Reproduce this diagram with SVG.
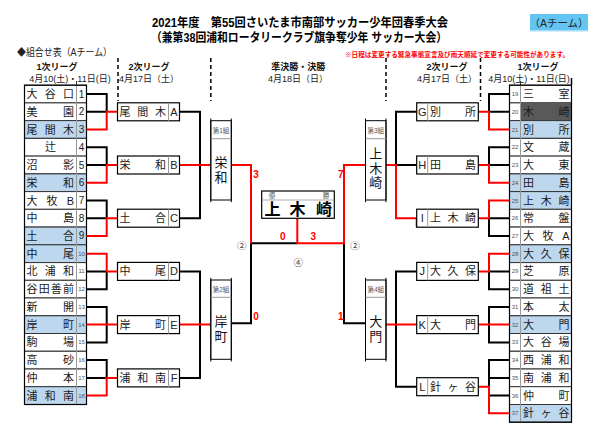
<svg xmlns="http://www.w3.org/2000/svg" width="606" height="428" viewBox="0 0 606 428">
<style>
text{font-family:"Liberation Sans","Noto Sans CJK JP",sans-serif}
.nm{font-size:11px;fill:#1a1a1a;dominant-baseline:central}
.n1{font-size:10px;fill:#222;text-anchor:middle;dominant-baseline:central}
.n2{font-size:6px;fill:#555;text-anchor:middle;dominant-baseline:central}
.lt{font-size:11px;fill:#222;text-anchor:middle;dominant-baseline:central}
.row{stroke:#333;stroke-width:1;fill:#fff}
.blue{fill:#bdd7ee}
.box{stroke:#000;stroke-width:1.2;fill:#fff}
.div{stroke:#999;stroke-width:1}
.bk{stroke:#000;stroke-width:2;fill:none}
.rd{stroke:#f00;stroke-width:2;fill:none}
.hd{font-size:9px;font-weight:bold;fill:#111;text-anchor:middle;dominant-baseline:central}
.dt{font-size:9px;fill:#222;text-anchor:middle;dominant-baseline:central}
.sc{font-size:10px;font-weight:bold;fill:#f00;text-anchor:middle;dominant-baseline:central}
.ci{font-size:9.5px;fill:#444;text-anchor:middle;dominant-baseline:central}
.sg{font-size:6.5px;fill:#555;text-anchor:middle;dominant-baseline:central}
.vn{font-size:13px;fill:#111;text-anchor:middle;dominant-baseline:central}
.dash{stroke:#000;stroke-width:1.5;stroke-dasharray:4 3}
</style>

<g id="header">
<text x="300" y="22.5" font-size="12.5" font-weight="bold" fill="#000" text-anchor="middle" dominant-baseline="central" textLength="296" lengthAdjust="spacingAndGlyphs">2021年度　第55回さいたま市南部サッカー少年団春季大会</text>
<text x="299" y="38" font-size="12.5" font-weight="bold" fill="#000" text-anchor="middle" dominant-baseline="central" textLength="296" lengthAdjust="spacingAndGlyphs">（兼第38回浦和ロータリークラブ旗争奪少年 サッカー大会）</text>
<rect x="530" y="14" width="58" height="16" fill="#63c6f2"/>
<rect x="530" y="30" width="58" height="1.5" fill="#a9dcf5"/>
<text x="559" y="22.5" font-size="10.5" fill="#222" text-anchor="middle" dominant-baseline="central">（Aチーム）</text>
<text x="17" y="52" font-size="10" fill="#222" dominant-baseline="central" textLength="95" lengthAdjust="spacingAndGlyphs">◆組合せ表（Aチーム）</text>
<text x="345" y="54" font-size="6.6" font-weight="bold" fill="#f00" dominant-baseline="central" textLength="224" lengthAdjust="spacingAndGlyphs">※日程は変更する緊急事態宣言及び雨天順延で変更する可能性があります。</text>
<text class="hd" x="57" y="66.7">1次リーグ</text>
<text class="dt" x="70" y="79.3">4月10(土)・11日(日)</text>
<text class="hd" x="149" y="66.7">2次リーグ</text>
<text class="dt" x="149" y="79.3">4月17日（土）</text>
<text class="hd" x="298.3" y="66.7">準決勝・決勝</text>
<text class="dt" x="298" y="79.3">4月18日（日）</text>
<text class="hd" x="447" y="66.7">2次リーグ</text>
<text class="dt" x="447" y="79.3">4月17日（土）</text>
<text class="hd" x="538" y="66.7">1次リーグ</text>
<text class="dt" x="529" y="79.3">4月10(土)・11日(日)</text>
<line class="dash" x1="118" y1="58" x2="118" y2="101"/>
<line class="dash" x1="210.8" y1="58" x2="210.8" y2="101"/>
<line class="dash" x1="386" y1="58" x2="386" y2="101"/>
<line class="dash" x1="480.5" y1="58" x2="480.5" y2="101"/>
<line x1="76.5" y1="81" x2="76.5" y2="85" stroke="#333" stroke-width="1"/>
<line x1="520.5" y1="81" x2="520.5" y2="85" stroke="#333" stroke-width="1"/>
<line x1="571.5" y1="78" x2="571.5" y2="85" stroke="#000" stroke-width="1.5"/>
</g>

<!-- Left first league table -->
<g id="t1"><rect class="row" x="24.5" y="85.2" width="62" height="17.7"/><text class="nm" x="26.5" y="94" textLength="47.5" lengthAdjust="spacing">大谷口</text><text class="n1" x="81.5" y="94">1</text></g>
<g id="t2"><rect class="row" x="24.5" y="102.9" width="62" height="17.7"/><text class="nm" x="26.5" y="111.8" textLength="47.5" lengthAdjust="spacing">美園</text><text class="n1" x="81.5" y="111.8">2</text></g>
<g id="t3"><rect class="row blue" x="24.5" y="120.6" width="62" height="17.7"/><text class="nm" x="26.5" y="129.5" textLength="47.5" lengthAdjust="spacing">尾間木</text><text class="n1" x="81.5" y="129.5">3</text></g>
<g id="t4"><rect class="row" x="24.5" y="138.4" width="62" height="17.7"/><text class="nm" x="50.5" y="147.2" text-anchor="middle">辻</text><text class="n1" x="81.5" y="147.2">4</text></g>
<g id="t5"><rect class="row" x="24.5" y="156.1" width="62" height="17.7"/><text class="nm" x="26.5" y="165" textLength="47.5" lengthAdjust="spacing">沼影</text><text class="n1" x="81.5" y="165">5</text></g>
<g id="t6"><rect class="row blue" x="24.5" y="173.9" width="62" height="17.7"/><text class="nm" x="26.5" y="182.7" textLength="47.5" lengthAdjust="spacing">栄和</text><text class="n1" x="81.5" y="182.7">6</text></g>
<g id="t7"><rect class="row" x="24.5" y="191.6" width="62" height="17.7"/><text class="nm" x="26.5" y="200.5" textLength="47.5" lengthAdjust="spacing">大牧B</text><text class="n1" x="81.5" y="200.5">7</text></g>
<g id="t8"><rect class="row" x="24.5" y="209.3" width="62" height="17.7"/><text class="nm" x="26.5" y="218.2" textLength="47.5" lengthAdjust="spacing">中島</text><text class="n1" x="81.5" y="218.2">8</text></g>
<g id="t9"><rect class="row blue" x="24.5" y="227.1" width="62" height="17.7"/><text class="nm" x="26.5" y="235.9" textLength="47.5" lengthAdjust="spacing">土合</text><text class="n1" x="81.5" y="235.9">9</text></g>
<g id="t10"><rect class="row blue" x="24.5" y="244.8" width="62" height="17.7"/><text class="nm" x="26.5" y="253.7" textLength="47.5" lengthAdjust="spacing">中尾</text><text class="n2" x="81.5" y="253.7">10</text></g>
<g id="t11"><rect class="row" x="24.5" y="262.6" width="62" height="17.7"/><text class="nm" x="26.5" y="271.4" textLength="47.5" lengthAdjust="spacing">北浦和</text><text class="n2" x="81.5" y="271.4">11</text></g>
<g id="t12"><rect class="row" x="24.5" y="280.3" width="62" height="17.7"/><text class="nm" x="26.5" y="289.2" textLength="47.5" lengthAdjust="spacing">谷田善前</text><text class="n2" x="81.5" y="289.2">12</text></g>
<g id="t13"><rect class="row" x="24.5" y="298" width="62" height="17.7"/><text class="nm" x="26.5" y="306.9" textLength="47.5" lengthAdjust="spacing">新開</text><text class="n2" x="81.5" y="306.9">13</text></g>
<g id="t14"><rect class="row blue" x="24.5" y="315.8" width="62" height="17.7"/><text class="nm" x="26.5" y="324.6" textLength="47.5" lengthAdjust="spacing">岸町</text><text class="n2" x="81.5" y="324.6">14</text></g>
<g id="t15"><rect class="row" x="24.5" y="333.5" width="62" height="17.7"/><text class="nm" x="26.5" y="342.4" textLength="47.5" lengthAdjust="spacing">駒場</text><text class="n2" x="81.5" y="342.4">15</text></g>
<g id="t16"><rect class="row" x="24.5" y="351.3" width="62" height="17.7"/><text class="nm" x="26.5" y="360.1" textLength="47.5" lengthAdjust="spacing">高砂</text><text class="n2" x="81.5" y="360.1">16</text></g>
<g id="t17"><rect class="row" x="24.5" y="369" width="62" height="17.7"/><text class="nm" x="26.5" y="377.9" textLength="47.5" lengthAdjust="spacing">仲本</text><text class="n2" x="81.5" y="377.9">17</text></g>
<g id="t18"><rect class="row blue" x="24.5" y="386.7" width="62" height="17.8"/><text class="nm" x="26.5" y="395.6" textLength="47.5" lengthAdjust="spacing">浦和南</text><text class="n2" x="81.5" y="395.6">18</text></g>
<line class="div" x1="76.5" y1="85.2" x2="76.5" y2="404.5"/>
<rect x="24.5" y="85.2" width="62" height="319.3" fill="none" stroke="#000" stroke-width="1.2"/>

<!-- Right first league table -->
<g id="t19"><rect class="row" x="509.5" y="85.2" width="62" height="17.7"/><text class="nm" x="523" y="94" textLength="46.5" lengthAdjust="spacing">三室</text><text class="n2" x="515" y="94">19</text></g>
<g id="t20"><rect class="row" x="509.5" y="102.9" width="62" height="17.7"/><rect x="520.5" y="102.9" width="51" height="17.7" fill="#595959"/><text class="nm" x="523" y="111.8" textLength="46.5" lengthAdjust="spacing">木崎</text><text class="n2" x="515" y="111.8">20</text></g>
<g id="t21"><rect class="row blue" x="509.5" y="120.6" width="62" height="17.7"/><text class="nm" x="523" y="129.5" textLength="46.5" lengthAdjust="spacing">別所</text><text class="n2" x="515" y="129.5">21</text></g>
<g id="t22"><rect class="row" x="509.5" y="138.4" width="62" height="17.7"/><text class="nm" x="523" y="147.2" textLength="46.5" lengthAdjust="spacing">文蔵</text><text class="n2" x="515" y="147.2">22</text></g>
<g id="t23"><rect class="row" x="509.5" y="156.1" width="62" height="17.7"/><text class="nm" x="523" y="165" textLength="46.5" lengthAdjust="spacing">大東</text><text class="n2" x="515" y="165">23</text></g>
<g id="t24"><rect class="row blue" x="509.5" y="173.9" width="62" height="17.7"/><text class="nm" x="523" y="182.7" textLength="46.5" lengthAdjust="spacing">田島</text><text class="n2" x="515" y="182.7">24</text></g>
<g id="t25"><rect class="row blue" x="509.5" y="191.6" width="62" height="17.7"/><text class="nm" x="523" y="200.5" textLength="46.5" lengthAdjust="spacing">上木崎</text><text class="n2" x="515" y="200.5">25</text></g>
<g id="t26"><rect class="row" x="509.5" y="209.3" width="62" height="17.7"/><text class="nm" x="523" y="218.2" textLength="46.5" lengthAdjust="spacing">常盤</text><text class="n2" x="515" y="218.2">26</text></g>
<g id="t27"><rect class="row" x="509.5" y="227.1" width="62" height="17.7"/><text class="nm" x="523" y="235.9" textLength="46.5" lengthAdjust="spacing">大牧A</text><text class="n2" x="515" y="235.9">27</text></g>
<g id="t28"><rect class="row blue" x="509.5" y="244.8" width="62" height="17.7"/><text class="nm" x="523" y="253.7" textLength="46.5" lengthAdjust="spacing">大久保</text><text class="n2" x="515" y="253.7">28</text></g>
<g id="t29"><rect class="row" x="509.5" y="262.6" width="62" height="17.7"/><text class="nm" x="523" y="271.4" textLength="46.5" lengthAdjust="spacing">芝原</text><text class="n2" x="515" y="271.4">29</text></g>
<g id="t30"><rect class="row" x="509.5" y="280.3" width="62" height="17.7"/><text class="nm" x="523" y="289.2" textLength="46.5" lengthAdjust="spacing">道祖土</text><text class="n2" x="515" y="289.2">30</text></g>
<g id="t31"><rect class="row" x="509.5" y="298" width="62" height="17.7"/><text class="nm" x="523" y="306.9" textLength="46.5" lengthAdjust="spacing">本太</text><text class="n2" x="515" y="306.9">31</text></g>
<g id="t32"><rect class="row blue" x="509.5" y="315.8" width="62" height="17.7"/><text class="nm" x="523" y="324.6" textLength="46.5" lengthAdjust="spacing">大門</text><text class="n2" x="515" y="324.6">32</text></g>
<g id="t33"><rect class="row" x="509.5" y="333.5" width="62" height="17.7"/><text class="nm" x="523" y="342.4" textLength="46.5" lengthAdjust="spacing">大谷場</text><text class="n2" x="515" y="342.4">33</text></g>
<g id="t34"><rect class="row" x="509.5" y="351.3" width="62" height="17.7"/><text class="nm" x="523" y="360.1" textLength="46.5" lengthAdjust="spacing">西浦和</text><text class="n2" x="515" y="360.1">34</text></g>
<g id="t35"><rect class="row" x="509.5" y="369" width="62" height="17.7"/><text class="nm" x="523" y="377.9" textLength="46.5" lengthAdjust="spacing">南浦和</text><text class="n2" x="515" y="377.9">35</text></g>
<g id="t36"><rect class="row" x="509.5" y="386.7" width="62" height="17.8"/><text class="nm" x="523" y="395.6" textLength="46.5" lengthAdjust="spacing">仲町</text><text class="n2" x="515" y="395.6">36</text></g>
<g id="t37"><rect class="row blue" x="509.5" y="404.5" width="62" height="17.7"/><text class="nm" x="523" y="413.3" textLength="46.5" lengthAdjust="spacing">針ヶ谷</text><text class="n2" x="515" y="413.3">37</text></g>
<line class="div" x1="520.5" y1="85.2" x2="520.5" y2="422.2"/>
<rect x="509.5" y="85.2" width="62" height="337" fill="none" stroke="#000" stroke-width="1.2"/>

<!-- Connectors -->
<g id="connectors">
<path class="bk" d="M86.5,94H106.7V111.8M86.5,111.8H106.7
M86.5,147.2H106.7V165M86.5,165H106.7
M86.5,200.5H106.7V218.2M86.5,218.2H106.7
M86.5,271.4H106.7M86.5,289.2H106.7V271.4
M86.5,306.9H106.7V342.4H86.5
M86.5,360.1H106.7V377.9M86.5,377.9H106.7
M179.5,111.8H200V218.2H179.5
M179.5,271.4H200V377.9H179.5
M251,243.3H297.3
M251,243.3V323.3H231.3
M344,243.3V323.3H365.5
M416.7,111.8H396V165H416.7
M416.7,271.4H396V386.7H416.7
M509.5,94H489V111.8M509.5,111.8H489
M509.5,147.2H489V165M509.5,165H489
M509.5,218.2H489M509.5,235.9H489V218.2
M509.5,271.4H489M509.5,289.2H489V271.4
M509.5,306.9H489V342.4H509.5
M509.5,360.1H489V395.6H509.5M509.5,377.9H489"/>
<path class="rd" d="M86.5,129.5H106.7V111.8H117.5
M86.5,182.7H106.7V165H117.5
M86.5,235.9H106.7V218.2H117.5
M86.5,253.7H106.7V271.4H117.5
M86.5,324.6H117.5
M86.5,395.6H106.7V377.9H117.5
M179.5,165H210.8
M179.5,324.6H210.8
M231.3,165H251V243.3
M297.3,218.3V243.3H344V165H365.5
M386,165H396V218.2H416.7V227.2
M386,324.6H416.7
M509.5,129.5H489V111.8H478.3
M509.5,182.7H489V165H478.3
M509.5,200.5H489V218.2H478.3
M509.5,253.7H489V271.4H478.3
M509.5,324.6H478.3
M509.5,413.3H489V386.7H478.3"/>
</g>

<!-- Left second league boxes -->
<g id="A"><rect class="box" x="117.5" y="102.8" width="62" height="18"/><line class="div" x1="168.5" y1="102.8" x2="168.5" y2="120.8"/><text class="nm" x="119.5" y="111.8" textLength="46.5" lengthAdjust="spacing">尾間木</text><text class="lt" x="174" y="111.8">A</text></g>
<g id="B"><rect class="box blue" x="117.5" y="156" width="62" height="18"/><line class="div" x1="168.5" y1="156" x2="168.5" y2="174"/><text class="nm" x="119.5" y="165" textLength="46.5" lengthAdjust="spacing">栄和</text><text class="lt" x="174" y="165">B</text></g>
<g id="C"><rect class="box" x="117.5" y="209.2" width="62" height="18"/><line class="div" x1="168.5" y1="209.2" x2="168.5" y2="227.2"/><text class="nm" x="119.5" y="218.2" textLength="46.5" lengthAdjust="spacing">土合</text><text class="lt" x="174" y="218.2">C</text></g>
<g id="D"><rect class="box" x="117.5" y="262.4" width="62" height="18"/><line class="div" x1="168.5" y1="262.4" x2="168.5" y2="280.4"/><text class="nm" x="119.5" y="271.4" textLength="46.5" lengthAdjust="spacing">中尾</text><text class="lt" x="174" y="271.4">D</text></g>
<g id="E"><rect class="box blue" x="117.5" y="315.6" width="62" height="18"/><line class="div" x1="168.5" y1="315.6" x2="168.5" y2="333.6"/><text class="nm" x="119.5" y="324.6" textLength="46.5" lengthAdjust="spacing">岸町</text><text class="lt" x="174" y="324.6">E</text></g>
<g id="F"><rect class="box" x="117.5" y="368.9" width="62" height="18"/><line class="div" x1="168.5" y1="368.9" x2="168.5" y2="386.9"/><text class="nm" x="119.5" y="377.9" textLength="46.5" lengthAdjust="spacing">浦和南</text><text class="lt" x="174" y="377.9">F</text></g>

<!-- Right second league boxes -->
<g id="G"><rect class="box" x="416.7" y="102.8" width="61.6" height="18"/><line class="div" x1="427.7" y1="102.8" x2="427.7" y2="120.8"/><text class="lt" x="422.2" y="111.8">G</text><text class="nm" x="430" y="111.8" textLength="46" lengthAdjust="spacing">別所</text></g>
<g id="H"><rect class="box" x="416.7" y="156" width="61.6" height="18"/><line class="div" x1="427.7" y1="156" x2="427.7" y2="174"/><text class="lt" x="422.2" y="165">H</text><text class="nm" x="430" y="165" textLength="46" lengthAdjust="spacing">田島</text></g>
<g id="I"><rect class="box blue" x="416.7" y="209.2" width="61.6" height="18"/><line class="div" x1="427.7" y1="209.2" x2="427.7" y2="227.2"/><text class="lt" x="422.2" y="218.2">I</text><text class="nm" x="430" y="218.2" textLength="46" lengthAdjust="spacing">上木崎</text></g>
<g id="J"><rect class="box" x="416.7" y="262.4" width="61.6" height="18"/><line class="div" x1="427.7" y1="262.4" x2="427.7" y2="280.4"/><text class="lt" x="422.2" y="271.4">J</text><text class="nm" x="430" y="271.4" textLength="46" lengthAdjust="spacing">大久保</text></g>
<g id="K"><rect class="box blue" x="416.7" y="315.6" width="61.6" height="18"/><line class="div" x1="427.7" y1="315.6" x2="427.7" y2="333.6"/><text class="lt" x="422.2" y="324.6">K</text><text class="nm" x="430" y="324.6" textLength="46" lengthAdjust="spacing">大門</text></g>
<g id="L"><rect class="box" x="416.7" y="377.7" width="61.6" height="18"/><line class="div" x1="427.7" y1="377.7" x2="427.7" y2="395.7"/><text class="lt" x="422.2" y="386.7">L</text><text class="nm" x="430" y="386.7" textLength="46" lengthAdjust="spacing">針ヶ谷</text></g>

<!-- Semifinal boxes -->
<g id="semi1"><rect x="210.8" y="120.7" width="20.5" height="79.3" fill="#fff" stroke="#000" stroke-width="1"/><path d="M210.8,118.5V202.2M231.3,118.5V202.2" stroke="#000" stroke-width="1"/><line x1="210.8" y1="138.7" x2="231.3" y2="138.7" stroke="#999" stroke-width="1"/><text class="sg" x="221" y="130.5">第1組</text><text class="vn" x="221" y="162">栄</text><text class="vn" x="221" y="177">和</text></g>
<g id="semi2"><rect x="210.8" y="280" width="20.5" height="79.3" fill="#fff" stroke="#000" stroke-width="1"/><path d="M210.8,277.8V361.5M231.3,277.8V361.5" stroke="#000" stroke-width="1"/><line x1="210.8" y1="297.3" x2="231.3" y2="297.3" stroke="#999" stroke-width="1"/><text class="sg" x="221" y="289.5">第2組</text><text class="vn" x="221" y="321">岸</text><text class="vn" x="221" y="336">町</text></g>
<g id="semi3"><rect x="365.5" y="120.7" width="20.5" height="79.3" fill="#fff" stroke="#000" stroke-width="1"/><path d="M365.5,118.5V202.2M386,118.5V202.2" stroke="#000" stroke-width="1"/><line x1="365.5" y1="138.7" x2="386" y2="138.7" stroke="#999" stroke-width="1"/><text class="sg" x="375.8" y="130.5">第3組</text><text class="vn" x="375.8" y="153.5">上</text><text class="vn" x="375.8" y="168">木</text><text class="vn" x="375.8" y="182.5">崎</text></g>
<g id="semi4"><rect x="365.5" y="280" width="20.5" height="79.3" fill="#fff" stroke="#000" stroke-width="1"/><path d="M365.5,277.8V361.5M386,277.8V361.5" stroke="#000" stroke-width="1"/><line x1="365.5" y1="297.3" x2="386" y2="297.3" stroke="#999" stroke-width="1"/><text class="sg" x="375.8" y="289.5">第4組</text><text class="vn" x="375.8" y="321.5">大</text><text class="vn" x="375.8" y="336.5">門</text></g>

<!-- Champion -->
<g id="champion"><rect x="261.7" y="191" width="72.6" height="27.3" fill="#fff" stroke="#000" stroke-width="1.2"/><line x1="263" y1="200" x2="333" y2="200" stroke="#999" stroke-width="0.8"/><text class="sg" x="272" y="195.8">優</text><text class="sg" x="326" y="195.8">勝</text><text x="272.5 297.5 324" y="209.5" font-size="16" font-weight="bold" fill="#000" text-anchor="middle" dominant-baseline="central">上木崎</text></g>

<g id="labels">
<text class="sc" x="256" y="174">3</text>
<text class="sc" x="340.7" y="174">7</text>
<text class="sc" x="282.7" y="236">0</text>
<text class="sc" x="313.3" y="236">3</text>
<text class="sc" x="256" y="316">0</text>
<text class="sc" x="340.7" y="316">1</text>
<text class="ci" x="241.7" y="245">②</text>
<text class="ci" x="355" y="245">②</text>
<text class="ci" x="298.3" y="262.3">④</text>
</g>
</svg>
